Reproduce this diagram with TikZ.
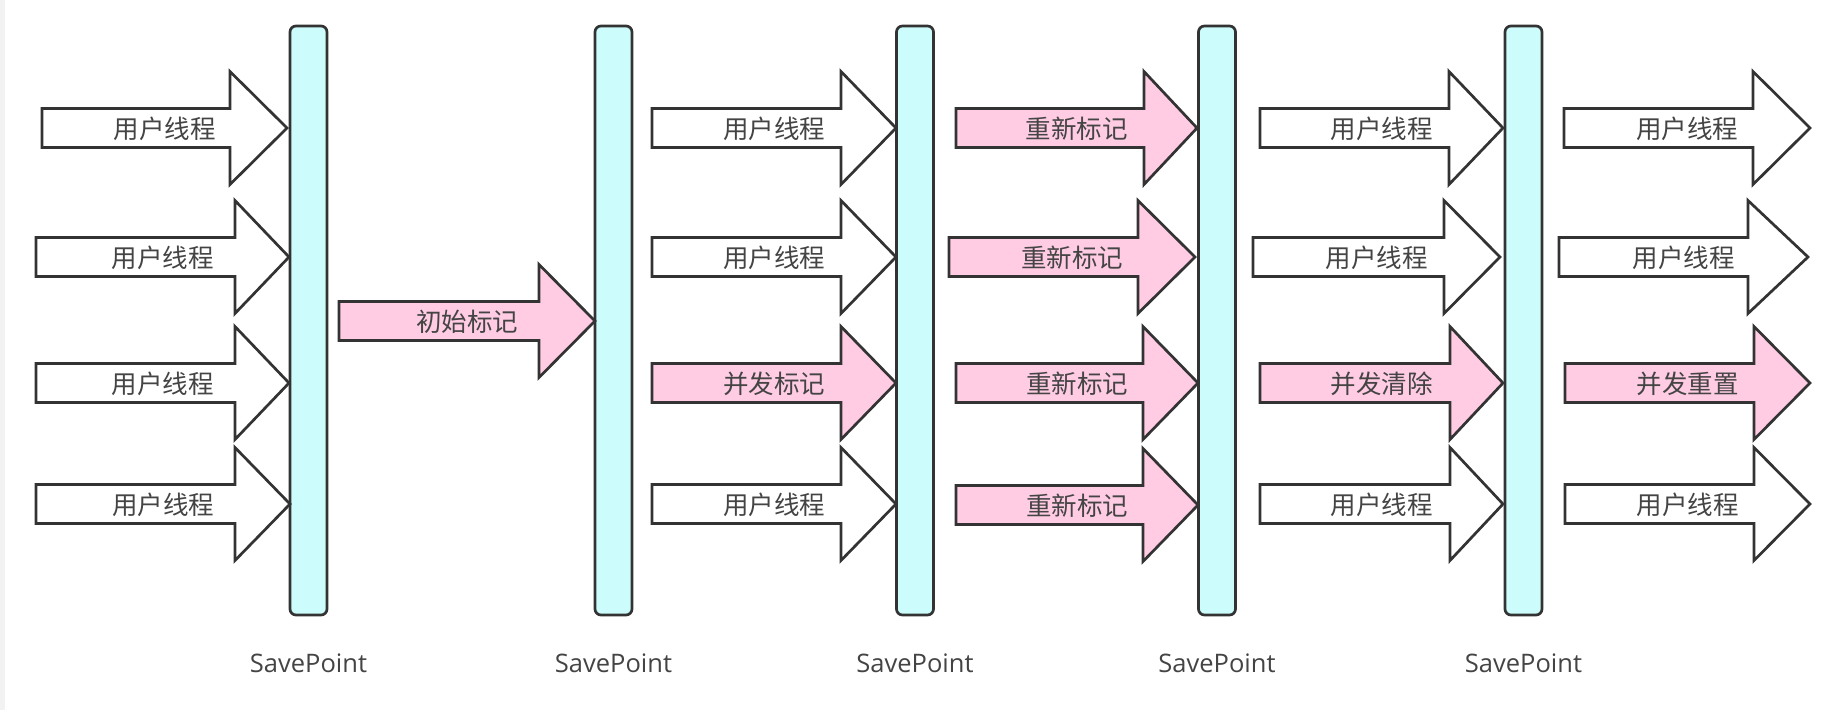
\documentclass[tikz,border=0pt]{standalone}
\usepackage{fontspec}
\setmainfont{Open Sans}
\newfontfamily\cjk{Noto Sans CJK SC}
\definecolor{barfill}{HTML}{CCFCFC}
\definecolor{pinkfill}{HTML}{FFCCE4}
\definecolor{edge}{HTML}{333333}
\definecolor{txt}{HTML}{444444}
\definecolor{margin}{HTML}{F2F2F2}
\tikzset{
  arrowwhite/.style={draw=edge, line width=2.7pt, fill=white, line join=miter},
  arrowpink/.style={draw=edge, line width=2.7pt, fill=pinkfill, line join=miter},
  lbl/.style={inner sep=0pt, text=txt, font=\cjk\fontsize{25.5}{30}\selectfont},
  barbox/.style={draw=edge, line width=2.7pt, fill=barfill, rounded corners=6pt, inner sep=0pt, minimum width=37pt, minimum height=589pt},
  splbl/.style={inner sep=0pt, text=txt, font=\fontsize{25.5}{30}\selectfont}
}
% name, left x, head x, tip x, centre y, style, text
\newcommand\thrarrow[7]{%
  \draw[#6] (#2,{#5-19.5}) -- (#3,{#5-19.5}) -- (#3,{#5-56.5}) -- (#4,#5) -- (#3,{#5+56.5}) -- (#3,{#5+19.5}) -- (#2,{#5+19.5}) -- cycle;
  \node[lbl] (#1) at ({(#2+#4)/2},{#5+1}) {#7};
}
\begin{document}
\begin{tikzpicture}[x=1pt,y=-1pt]
\useasboundingbox (0,0) rectangle (1824,710);
\fill[white] (0,0) rectangle (1824,710);
\fill[margin] (0,0) rectangle (5,710);
% SavePoint bars
\node[barbox] (b1) at (308.5,320.5) {};
\node[barbox] (b2) at (613.5,320.5) {};
\node[barbox] (b3) at (915,320.5) {};
\node[barbox] (b4) at (1217,320.5) {};
\node[barbox] (b5) at (1523.5,320.5) {};
\node[splbl] (s1) at (308.5,663) {SavePoint};
\node[splbl] (s2) at (613.5,663) {SavePoint};
\node[splbl] (s3) at (915,663) {SavePoint};
\node[splbl] (s4) at (1217,663) {SavePoint};
\node[splbl] (s5) at (1523.5,663) {SavePoint};
% column A
\thrarrow{a1}{42}{230}{287}{128}{arrowwhite}{用户线程}
\thrarrow{a2}{36}{235}{289}{257}{arrowwhite}{用户线程}
\thrarrow{a3}{36}{235}{289}{383}{arrowwhite}{用户线程}
\thrarrow{a4}{36}{235}{290}{504}{arrowwhite}{用户线程}
% initial mark
\thrarrow{im}{339}{539}{595}{321}{arrowpink}{初始标记}
% column C
\thrarrow{c1}{652}{841}{896}{128}{arrowwhite}{用户线程}
\thrarrow{c2}{652}{841}{896}{257}{arrowwhite}{用户线程}
\thrarrow{c3}{652}{841}{896}{383}{arrowpink}{并发标记}
\thrarrow{c4}{652}{841}{896}{504}{arrowwhite}{用户线程}
% column D
\thrarrow{d1}{956}{1144}{1197}{128}{arrowpink}{重新标记}
\thrarrow{d2}{949}{1138}{1195}{257}{arrowpink}{重新标记}
\thrarrow{d3}{956}{1143}{1198}{383}{arrowpink}{重新标记}
\thrarrow{d4}{956}{1143}{1198}{505}{arrowpink}{重新标记}
% column E
\thrarrow{e1}{1260}{1449}{1503}{128}{arrowwhite}{用户线程}
\thrarrow{e2}{1253}{1444}{1500}{257}{arrowwhite}{用户线程}
\thrarrow{e3}{1260}{1450}{1503}{383}{arrowpink}{并发清除}
\thrarrow{e4}{1260}{1450}{1503}{504}{arrowwhite}{用户线程}
% column F
\thrarrow{f1}{1564}{1753}{1810}{128}{arrowwhite}{用户线程}
\thrarrow{f2}{1559}{1748}{1808}{257}{arrowwhite}{用户线程}
\thrarrow{f3}{1565}{1754}{1810}{383}{arrowpink}{并发重置}
\thrarrow{f4}{1565}{1754}{1810}{504}{arrowwhite}{用户线程}
\end{tikzpicture}
\end{document}
